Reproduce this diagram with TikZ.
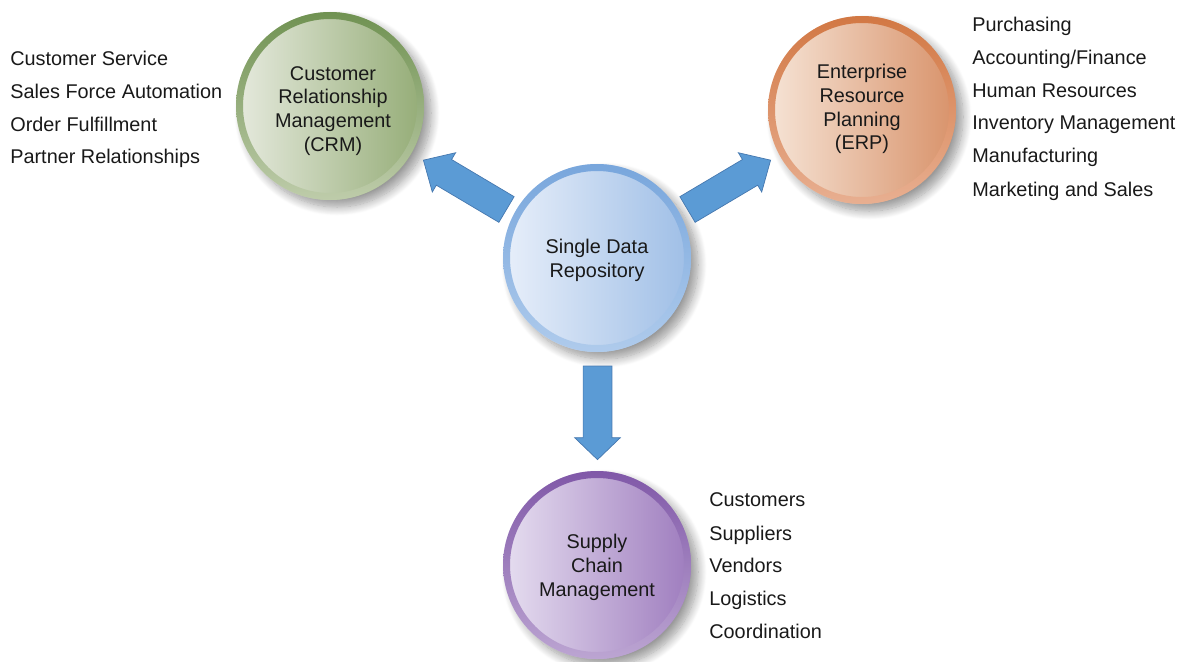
\documentclass[tikz,border=0pt]{standalone}
\usepackage{fontspec}
\setmainfont{Liberation Sans}
\usetikzlibrary{shadows.blur,calc}
\definecolor{txt}{RGB}{25,25,25}
\definecolor{arrowfill}{RGB}{91,155,213}
\definecolor{arrowline}{RGB}{70,120,175}
\definecolor{crmL}{RGB}{230,234,222}\definecolor{crmR}{RGB}{148,172,118}
\definecolor{crmT}{RGB}{112,146,82}\definecolor{crmB}{RGB}{190,204,170}
\definecolor{hubL}{RGB}{232,239,250}\definecolor{hubR}{RGB}{158,190,230}
\definecolor{hubT}{RGB}{120,166,220}\definecolor{hubB}{RGB}{175,203,236}
\definecolor{erpL}{RGB}{246,228,214}\definecolor{erpR}{RGB}{216,146,106}
\definecolor{erpT}{RGB}{210,120,68}\definecolor{erpB}{RGB}{232,175,145}
\definecolor{scmL}{RGB}{230,222,240}\definecolor{scmR}{RGB}{158,124,190}
\definecolor{scmT}{RGB}{128,88,168}\definecolor{scmB}{RGB}{188,165,210}
\begin{document}
\begin{tikzpicture}[x=0.02cm,y=-0.02cm,
  font=\fontsize{11.3}{13.6}\selectfont, text=txt,
  disc/.style 2 args={circle, inner sep=0pt, minimum size=3.76cm, align=center,
    left color=#1, right color=#2,
    blur shadow={shadow xshift=4pt, shadow yshift=-4pt, shadow blur steps=12, shadow opacity=40, shadow blur radius=5pt}},
  blockarrow/.style={draw=arrowline, line width=0.4pt, fill=arrowfill, line join=miter},
  item/.style={anchor=base west, inner sep=0pt}]
\useasboundingbox (0,0) rectangle (1189,662);

% circles
\node[disc={crmL}{crmR}] (crm) at (330,106) {};
\node[disc={hubL}{hubR}] (hub) at (597,258) {};
\node[disc={erpL}{erpR}] (erp) at (862,110) {};
\node[disc={scmL}{scmR}] (scm) at (597,565) {};

% rims
\shade[top color=crmT, bottom color=crmB, even odd rule] (crm.center) circle (94) circle (87);
\shade[top color=hubT, bottom color=hubB, even odd rule] (hub.center) circle (94) circle (87);
\shade[top color=erpT, bottom color=erpB, even odd rule] (erp.center) circle (94) circle (87);
\shade[top color=scmT, bottom color=scmB, even odd rule] (scm.center) circle (94) circle (87);

% circle labels
\node[align=center, inner sep=0pt] (crmtext) at ($(crm.center)+(3,5)$) {Customer\\Relationship\\Management\\(CRM)};
\node[align=center, inner sep=0pt] (hubtext) at ($(hub.center)+(0,2)$) {Single Data\\Repository};
\node[align=center, inner sep=0pt] (erptext) at ($(erp.center)+(0,-1)$) {Enterprise\\Resource\\Planning\\(ERP)};
\node[align=center, inner sep=0pt] (scmtext) at ($(scm.center)+(0,2)$) {Supply\\Chain\\Management};

% block arrows (tail points)
\coordinate (t1) at (506.5,209.5);
\coordinate (t2) at (687.5,209.5);
\coordinate (t3) at (597.5,366);
\draw[blockarrow, shift={(t1)}, rotate=149.3]
  (0pt,-8.5pt) -- (41.4pt,-8.5pt) -- (41.4pt,-13pt) -- (55pt,0pt) -- (41.4pt,13pt) -- (41.4pt,8.5pt) -- (0pt,8.5pt) -- cycle;
\draw[blockarrow, shift={(t2)}, rotate=30.7]
  (0pt,-8.5pt) -- (41.4pt,-8.5pt) -- (41.4pt,-13pt) -- (55pt,0pt) -- (41.4pt,13pt) -- (41.4pt,8.5pt) -- (0pt,8.5pt) -- cycle;
\draw[blockarrow, shift={(t3)}, rotate=-90]
  (0pt,-8.2pt) -- (40.8pt,-8.2pt) -- (40.8pt,-13pt) -- (53.3pt,0pt) -- (40.8pt,13pt) -- (40.8pt,8.2pt) -- (0pt,8.2pt) -- cycle;

% lists
\node[item] (l1) at (10,66) {Customer Service};
\node[item] (l2) at (10,99) {Sales Force Automation};
\node[item] (l3) at (10,132) {Order Fulfillment};
\node[item] (l4) at (10,164) {Partner Relationships};

\node[item] (r1) at (972,32) {Purchasing};
\node[item] (r2) at (972,65) {Accounting/Finance};
\node[item] (r3) at (972,98) {Human Resources};
\node[item] (r4) at (972,130) {Inventory Management};
\node[item] (r5) at (972,163) {Manufacturing};
\node[item] (r6) at (972,196) {Marketing and Sales};

\node[item] (b1) at (709,506) {Customers};
\node[item] (b2) at (709,540) {Suppliers};
\node[item] (b3) at (709,572) {Vendors};
\node[item] (b4) at (709,605) {Logistics};
\node[item] (b5) at (709,638) {Coordination};
\end{tikzpicture}
\end{document}
